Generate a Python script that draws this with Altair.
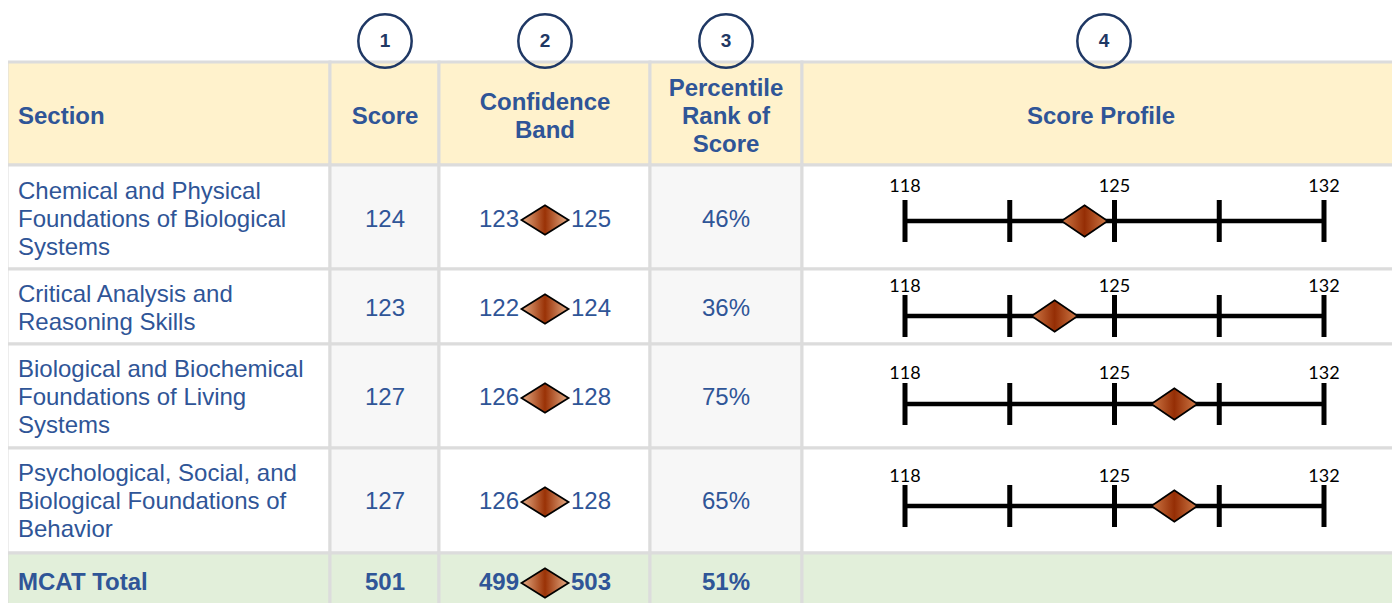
import altair as alt
import pandas as pd

# ---------------- data ----------------
sections = [
    "Chemical and Physical\nFoundations of Biological\nSystems",
    "Critical Analysis and\nReasoning Skills",
    "Biological and Biochemical\nFoundations of Living\nSystems",
    "Psychological, Social, and\nBiological Foundations of\nBehavior",
]
scores = [124, 123, 127, 127]
band_low = [123, 122, 126, 126]
band_high = [125, 124, 128, 128]
percentiles = ["46%", "36%", "75%", "65%"]

total_label = "MCAT Total"
total_score = 501
total_low = 499
total_high = 503
total_pct = "51%"

headers = ["Section", "Score", "Confidence\nBand", "Percentile\nRank of\nScore", "Score Profile"]
markers = ["1", "2", "3", "4"]

profile_min, profile_max = 118, 132
profile_ticks = [118, 121.5, 125, 128.5, 132]
profile_labels = [118, 125, 132]

# ---------------- layout (page pixels) ----------------
W, H = 1384, 595
OX, OY = 8, 8
col_edges = [7, 330, 439, 650, 802, 1404]
row_edges = [62, 165, 269, 344, 448, 553, 640]
header_fill = "#fff2cc"
body_fills = ["#ffffff", "#f7f7f7", "#ffffff", "#f7f7f7", "#ffffff"]
total_fill = "#e2efda"
grid_color = "#dcdcdc"
text_blue = "#2f5597"
navy = "#1f3864"
FONT = "Liberation Sans"
LH = 28

text_left_x = 18
score_x = 385
conf_x = 545
conf_low_x = 519
conf_high_x = 571
pct_x = 726
profile_x = 1101
header_y = 117
body_y = [220, 309, 398, 502]
total_y = 583
marker_y = 41
marker_x = [385, 545, 726, 1104]
profile_line_y = [221, 316, 404, 506]
profile_label_y = [187, 287, 374, 477]
profile_left, profile_right = 905, 1324
tick_half = 21

XS = alt.Scale(domain=[OX, OX + W], nice=False, zero=False)
YS = alt.Scale(domain=[OY, OY + H], reverse=True, nice=False, zero=False)
PS = alt.Scale(domain=[profile_min, profile_max], range=[profile_left - OX, profile_right - OX],
               nice=False, zero=False)


def X(f):
    return alt.X(f, type="quantitative", scale=XS, axis=None)


def Y(f):
    return alt.Y(f, type="quantitative", scale=YS, axis=None)


def first_line_y(center, text):
    n = text.count("\n") + 1
    return center - (n - 1) * LH / 2


# ---------------- cells ----------------
cells = []
for r in range(6):
    for c in range(5):
        if r == 0:
            fill = header_fill
        elif r == 5:
            fill = total_fill
        else:
            fill = body_fills[c]
        cells.append(dict(x=col_edges[c], x2=col_edges[c + 1], y=row_edges[r], y2=row_edges[r + 1], fill=fill))
cells_df = pd.DataFrame(cells)

cell_layer = alt.Chart(cells_df).mark_rect(stroke=grid_color, strokeWidth=3).encode(
    x=X("x"), x2="x2", y=Y("y"), y2="y2",
    fill=alt.Fill("fill:N", scale=None),
)

# ---------------- markers ----------------
marker_df = pd.DataFrame(dict(x=marker_x, y=[marker_y] * 4, t=markers))
marker_circles = alt.Chart(marker_df).mark_point(
    shape="circle", filled=False, size=2850, stroke=navy, strokeWidth=2.5, opacity=1
).encode(x=X("x"), y=Y("y"))
marker_text = alt.Chart(marker_df).mark_text(
    font=FONT, fontSize=19, fontWeight="bold", color=navy, align="center", baseline="middle"
).encode(x=X("x"), y=Y("y"), text="t:N")

# ---------------- header text ----------------
hdr_x = [text_left_x, score_x, conf_x, pct_x, profile_x]
hdr_df = pd.DataFrame(dict(
    t=headers,
    x=hdr_x,
    y=[first_line_y(header_y, h) for h in headers],
    a=["left", "center", "center", "center", "center"],
))
hdr_left = alt.Chart(hdr_df[hdr_df.a == "left"]).mark_text(
    font=FONT, fontSize=24, fontWeight="bold", color=text_blue, align="left",
    baseline="middle", lineBreak="\n", lineHeight=LH,
).encode(x=X("x"), y=Y("y"), text="t:N")
hdr_center = alt.Chart(hdr_df[hdr_df.a == "center"]).mark_text(
    font=FONT, fontSize=24, fontWeight="bold", color=text_blue, align="center",
    baseline="middle", lineBreak="\n", lineHeight=LH,
).encode(x=X("x"), y=Y("y"), text="t:N")

# ---------------- body text ----------------
def make_rows(sec, sc, lo, hi, pc, ys):
    df = pd.DataFrame(dict(
        section=sec, score=[str(v) for v in sc], low=[str(v) for v in lo],
        high=[str(v) for v in hi], pct=pc, y=ys,
    ))
    df["ysec"] = [first_line_y(y, s) for y, s in zip(ys, sec)]
    df["xs"] = text_left_x
    df["xc"] = score_x
    df["xl"] = conf_low_x
    df["xh"] = conf_high_x
    df["xp"] = pct_x
    df["xd"] = conf_x
    return df


body_df = make_rows(sections, scores, band_low, band_high, percentiles, body_y)
total_df = make_rows([total_label], [total_score], [total_low], [total_high], [total_pct], [total_y])


def txt(df, xf, yf, tf, align, bold=False, multiline=False):
    kw = dict(lineBreak="\n", lineHeight=LH) if multiline else {}
    return alt.Chart(df).mark_text(
        font=FONT, fontSize=24, fontWeight="bold" if bold else "normal", color=text_blue,
        align=align, baseline="middle", **kw,
    ).encode(x=X(xf), y=Y(yf), text=tf)


text_layers = []
for df, b in [(body_df, False), (total_df, True)]:
    text_layers += [
        txt(df, "xs", "ysec", "section:N", "left", b, multiline=True),
        txt(df, "xc", "y", "score:N", "center", b),
        txt(df, "xl", "y", "low:N", "right", b),
        txt(df, "xh", "y", "high:N", "left", b),
        txt(df, "xp", "y", "pct:N", "center", b),
    ]

diamond_path = "M-1,0L0,-0.63L1,0L0,0.63Z"
conf_grad = alt.Gradient(
    gradient="linear", x1=0, x2=1, y1=0, y2=0,
    stops=[alt.GradientStop(offset=0, color="#e6ad86"),
           alt.GradientStop(offset=0.5, color="#9a3206"),
           alt.GradientStop(offset=1, color="#e6ad86")],
)
conf_diamonds = alt.Chart(pd.concat([body_df, total_df])).mark_point(
    shape=diamond_path, filled=True, fill=conf_grad, stroke="black", strokeWidth=1.8,
    size=47 * 47, opacity=1,
).encode(x=X("xd"), y=Y("y"))

table = alt.layer(cell_layer, marker_circles, marker_text, hdr_left, hdr_center,
                  *text_layers, conf_diamonds)

# ---------------- score profile ----------------
def PX(f):
    return alt.X(f, type="quantitative", scale=PS, axis=None)


line_df = pd.DataFrame(dict(lo=[profile_min] * 4, hi=[profile_max] * 4, y=profile_line_y))
tick_rows = []
label_rows = []
for ly, lby in zip(profile_line_y, profile_label_y):
    for t in profile_ticks:
        tick_rows.append(dict(v=t, y=ly - tick_half, y2=ly + tick_half))
    for t in profile_labels:
        label_rows.append(dict(v=t, y=lby, t=str(t)))
tick_df = pd.DataFrame(tick_rows)
label_df = pd.DataFrame(label_rows)
pdiam_df = pd.DataFrame(dict(score=scores, y=profile_line_y))

p_line = alt.Chart(line_df).mark_rule(color="black", strokeWidth=4.5, strokeCap="butt").encode(
    x=PX("lo"), x2="hi", y=Y("y"))
p_ticks = alt.Chart(tick_df).mark_rule(color="black", strokeWidth=5, strokeCap="butt").encode(
    x=PX("v"), y=Y("y"), y2="y2")
p_labels = alt.Chart(label_df).mark_text(
    font="Lato", fontSize=18, color="black", align="center", baseline="middle"
).encode(x=PX("v"), y=Y("y"), text="t:N")
prof_grad = alt.Gradient(
    gradient="linear", x1=0, x2=1, y1=0, y2=0,
    stops=[alt.GradientStop(offset=0, color="#cf7a48"),
           alt.GradientStop(offset=0.5, color="#952e05"),
           alt.GradientStop(offset=1, color="#cf7a48")],
)
p_diam = alt.Chart(pdiam_df).mark_point(
    shape="M-1,0L0,-0.68L1,0L0,0.68Z", filled=True, fill=prof_grad, stroke="black",
    strokeWidth=1.8, size=46 * 46, opacity=1,
).encode(x=PX("score"), y=Y("y"))

profile = alt.layer(p_line, p_ticks, p_diam, p_labels)

chart = alt.layer(table, profile).resolve_scale(x="independent").properties(
    width=W, height=H, padding=0, autosize=alt.AutoSizeParams(type="none"),
).configure_view(stroke=None)

chart.save("out.html", embed_options={"renderer": "svg", "actions": False})
